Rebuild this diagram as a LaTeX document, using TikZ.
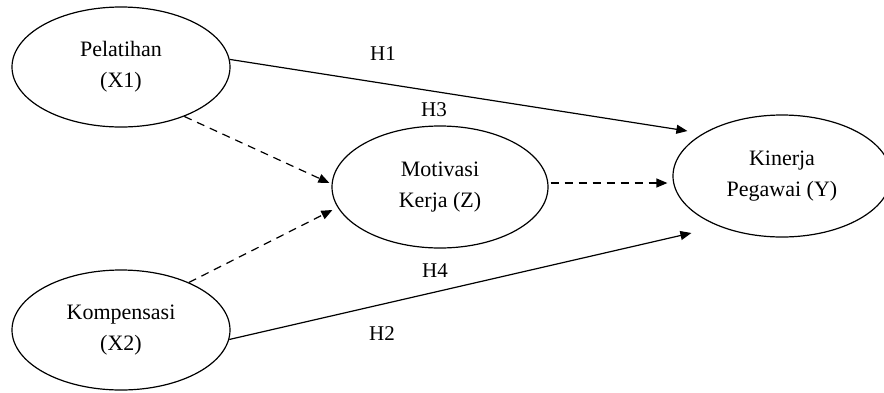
\documentclass[tikz,border=0pt]{standalone}
\usepackage{fontspec}
\setmainfont{Liberation Serif}
\usetikzlibrary{shapes.geometric,arrows.meta,calc}
\begin{document}
\begin{tikzpicture}[x=1pt,y=-1pt,
  var/.style={draw,ellipse,line width=1.2pt,inner sep=0pt,align=center,
    font=\fontsize{22}{31}\selectfont},
  lbl/.style={font=\fontsize{21}{25}\selectfont,inner sep=0pt},
  solidarrow/.style={line width=1.2pt,-{Triangle[length=11pt,width=9pt]}},
  dasharrow/.style={solidarrow,dash pattern=on 8pt off 6pt}]
\useasboundingbox (0,0) rectangle (884,392);
\node[var,minimum width=218pt,minimum height=120pt] (X1) at (121,67) {Pelatihan\\(X1)};
\node[var,minimum width=218pt,minimum height=120pt] (X2) at (121,330) {Kompensasi\\(X2)};
\node[var,minimum width=216pt,minimum height=122pt] (Z) at (440,187) {Motivasi\\Kerja (Z)};
\node[var,minimum width=218pt,minimum height=122pt] (Y) at (782,176) {Kinerja\\Pegawai (Y)};
\coordinate (zs) at ($(Z.east)+(2,-4)$);
\draw[solidarrow] (X1.4) -- ($(Y.west)+(15,-45)$);
\draw[dasharrow] (X1.-38) -- ($(Z.west)+(-2,-4)$);
\draw[dasharrow] (X2.35) -- ($(Z.west)+(1,23)$);
\draw[solidarrow] (X2.-5) -- ($(Y.west)+(19,57)$);
\draw[dasharrow,shorten >=5pt] (zs) -- (zs -| Y.west);
\node[lbl] (h1) at (383,54) {H1};
\node[lbl] (h3) at (434,110) {H3};
\node[lbl] (h4) at (435,271) {H4};
\node[lbl] (h2) at (382,334) {H2};
\end{tikzpicture}
\end{document}
